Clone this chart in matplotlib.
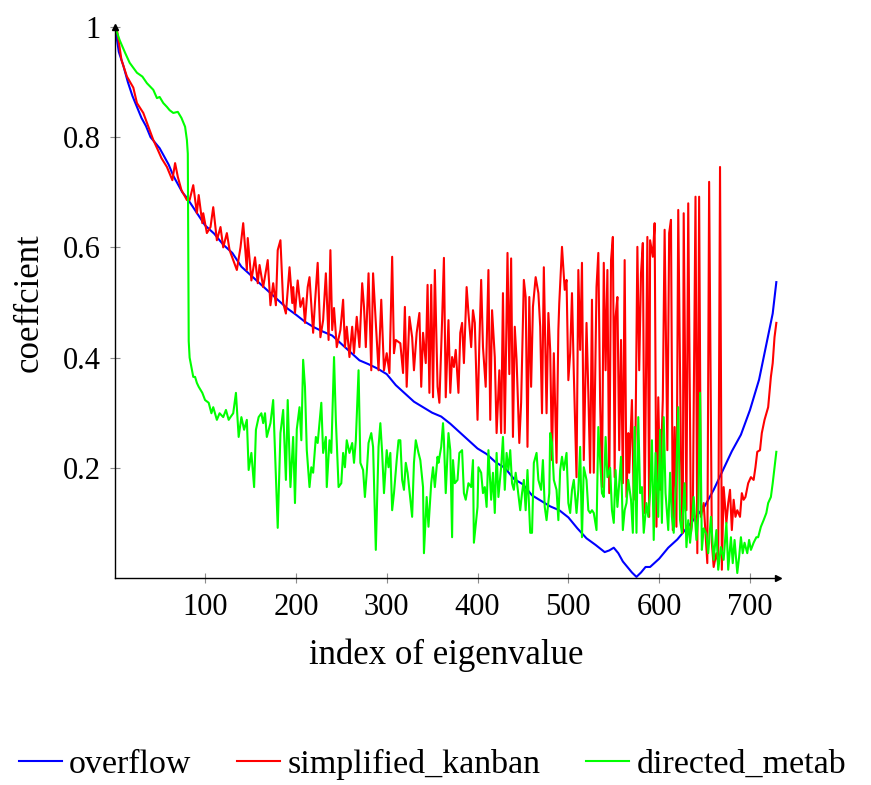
import numpy as np
import matplotlib
matplotlib.use("Agg")
import matplotlib.pyplot as plt

plt.rcParams['font.family'] = ['Liberation Serif', 'DejaVu Serif']

# ----------------------------------------------------------------------------------
# values (index of eigenvalue, coefficient)
# ----------------------------------------------------------------------------------

overflow_idx = [1, 5, 10, 15, 20, 25, 30, 35, 40, 45, 50, 55, 60, 65, 70, 75, 80, 90, 100,
                110, 120, 130, 140, 150, 160, 170, 180, 190, 200, 210, 220, 230, 240, 250,
                260, 270, 280, 290, 300, 310, 320, 330, 340, 350, 360, 370, 380, 390, 400,
                410, 420, 430, 440, 450, 460, 470, 480, 490, 500, 510, 520, 530, 540, 545,
                550, 555, 560, 565, 570, 575, 580, 585, 590, 600, 610, 620, 630, 640, 650,
                660, 670, 680, 690, 700, 710, 720, 725, 729]
overflow_val = [1.0, 0.955, 0.93, 0.90, 0.875, 0.855, 0.835, 0.82, 0.80, 0.79, 0.78, 0.765,
                0.75, 0.73, 0.715, 0.70, 0.69, 0.665, 0.64, 0.625, 0.605, 0.59, 0.565, 0.55,
                0.535, 0.52, 0.505, 0.49, 0.478, 0.465, 0.455, 0.447, 0.44, 0.425, 0.41,
                0.395, 0.388, 0.38, 0.37, 0.35, 0.335, 0.32, 0.31, 0.30, 0.293, 0.28, 0.265,
                0.25, 0.235, 0.225, 0.21, 0.2, 0.18, 0.17, 0.15, 0.14, 0.13, 0.123, 0.11,
                0.09, 0.072, 0.06, 0.047, 0.05, 0.055, 0.045, 0.03, 0.02, 0.01, 0.002, 0.01,
                0.02, 0.02, 0.035, 0.055, 0.07, 0.09, 0.11, 0.13, 0.16, 0.195, 0.23, 0.26,
                0.305, 0.36, 0.44, 0.48, 0.537]

kanban_idx = [1, 3, 8, 14, 21, 25, 32, 36, 43, 48, 52, 58, 64, 67, 70, 74, 80, 83, 87, 91,
              93, 97, 98, 102, 106, 109, 113, 117, 120, 124, 127, 135, 139, 142, 146, 147,
              151, 155, 158, 160, 164, 169, 172, 175, 178, 180, 183, 186, 189, 193, 196, 197,
              199, 202, 205, 208, 210, 213, 215, 219, 221, 224, 227, 230, 233, 236, 238, 240,
              242, 245, 249, 252, 254, 256, 259, 262, 264, 267, 270, 273, 275, 277, 280, 283,
              285, 288, 291, 294, 297, 300, 303, 306, 308, 310, 315, 318, 320, 322, 325, 328,
              330, 333, 336, 338, 340, 343, 345, 347, 349, 351, 353, 356, 358, 361, 363, 365,
              368, 370, 372, 374, 376, 379, 381, 383, 385, 388, 390, 393, 395, 397, 400, 402,
              404, 406, 409, 412, 414, 416, 419, 421, 424, 426, 428, 430, 433, 435, 437, 439,
              441, 443, 446, 448, 451, 453, 455, 457, 459, 461, 464, 467, 469, 471, 473, 476,
              478, 480, 482, 484, 487, 489, 490, 493, 496, 498, 500, 502, 504, 506, 509, 511,
              513, 515, 517, 520, 522, 524, 526, 528, 531, 533, 535, 537, 539, 541, 543, 545,
              547, 549, 551, 552, 554, 556, 558, 560, 562, 564, 566, 567, 570, 572, 574, 576,
              578, 580, 582, 584, 587, 589, 590, 593, 595, 597, 599, 601, 604, 606, 609, 611,
              613, 615, 617, 619, 621, 624, 626, 627, 630, 632, 635, 637, 640, 642, 644, 646,
              649, 653, 655, 658, 660, 663, 665, 667, 669, 671, 674, 676, 678, 680, 682, 684,
              686, 689, 691, 693, 695, 698, 701, 704, 706, 708, 711, 713, 716, 720, 723, 725,
              727, 729]
kanban_val = [1.0, 0.995, 0.94, 0.91, 0.89, 0.862, 0.844, 0.826, 0.795, 0.777, 0.762, 0.746,
              0.722, 0.753, 0.728, 0.704, 0.686, 0.686, 0.713, 0.662, 0.695, 0.644, 0.662,
              0.626, 0.637, 0.673, 0.613, 0.637, 0.60, 0.626, 0.595, 0.559, 0.60, 0.644,
              0.559, 0.617, 0.54, 0.582, 0.535, 0.568, 0.528, 0.577, 0.495, 0.535, 0.495,
              0.595, 0.613, 0.499, 0.48, 0.564, 0.499, 0.528, 0.481, 0.54, 0.492, 0.508,
              0.463, 0.528, 0.546, 0.445, 0.499, 0.572, 0.437, 0.468, 0.553, 0.432, 0.595,
              0.45, 0.49, 0.419, 0.45, 0.505, 0.419, 0.456, 0.401, 0.456, 0.408, 0.474, 0.419,
              0.535, 0.492, 0.419, 0.553, 0.377, 0.553, 0.463, 0.377, 0.505, 0.377, 0.408,
              0.372, 0.583, 0.408, 0.432, 0.426, 0.372, 0.492, 0.347, 0.474, 0.437, 0.377,
              0.445, 0.481, 0.347, 0.445, 0.39, 0.532, 0.336, 0.532, 0.328, 0.559, 0.347,
              0.318, 0.468, 0.581, 0.328, 0.468, 0.336, 0.401, 0.383, 0.414, 0.336, 0.445,
              0.463, 0.39, 0.528, 0.481, 0.419, 0.486, 0.463, 0.287, 0.426, 0.541, 0.419,
              0.347, 0.559, 0.287, 0.486, 0.401, 0.263, 0.377, 0.263, 0.517, 0.263, 0.59,
              0.37, 0.58, 0.256, 0.456, 0.396, 0.245, 0.318, 0.541, 0.51, 0.238, 0.51, 0.347,
              0.492, 0.546, 0.517, 0.456, 0.299, 0.564, 0.299, 0.481, 0.414, 0.214, 0.408,
              0.209, 0.45, 0.499, 0.601, 0.523, 0.541, 0.359, 0.408, 0.517, 0.372, 0.183,
              0.559, 0.414, 0.572, 0.214, 0.463, 0.336, 0.191, 0.505, 0.191, 0.528, 0.59,
              0.318, 0.165, 0.572, 0.377, 0.559, 0.154, 0.577, 0.619, 0.183, 0.474, 0.51,
              0.232, 0.432, 0.172, 0.577, 0.147, 0.263, 0.191, 0.323, 0.142, 0.263, 0.601,
              0.377, 0.553, 0.608, 0.118, 0.619, 0.111, 0.613, 0.583, 0.644, 0.093, 0.328,
              0.16, 0.323, 0.632, 0.232, 0.626, 0.65, 0.087, 0.274, 0.093, 0.668, 0.22, 0.082,
              0.662, 0.123, 0.68, 0.082, 0.111, 0.692, 0.045, 0.692, 0.111, 0.136, 0.027,
              0.719, 0.064, 0.02, 0.045, 0.027, 0.746, 0.015, 0.165, 0.1, 0.136, 0.16, 0.087,
              0.142, 0.111, 0.123, 0.111, 0.154, 0.142, 0.147, 0.172, 0.183, 0.178, 0.201,
              0.229, 0.232, 0.263, 0.287, 0.31, 0.365, 0.39, 0.437, 0.463]

metab_idx = [1, 6, 12, 17, 25, 31, 36, 43, 47, 50, 54, 58, 61, 65, 70, 74, 78, 80, 81, 82,
             83, 85, 87, 89, 91, 93, 97, 100, 104, 107, 109, 113, 116, 120, 123, 126, 128,
             131, 134, 137, 140, 143, 146, 148, 151, 154, 156, 159, 162, 164, 166, 168, 172,
             175, 177, 180, 183, 186, 189, 191, 194, 197, 199, 201, 204, 206, 208, 210, 212,
             215, 217, 219, 222, 224, 228, 230, 233, 234, 237, 239, 242, 244, 247, 250, 252,
             254, 256, 259, 262, 264, 266, 269, 271, 274, 276, 278, 280, 283, 285, 288, 291,
             293, 295, 297, 300, 302, 304, 306, 308, 311, 313, 315, 317, 319, 321, 323, 326,
             328, 330, 332, 335, 337, 340, 341, 344, 346, 349, 351, 353, 356, 357, 360, 362,
             363, 365, 368, 370, 372, 373, 375, 378, 380, 383, 385, 387, 390, 393, 395, 396,
             400, 401, 404, 406, 408, 410, 412, 415, 417, 419, 421, 423, 426, 428, 430, 432,
             434, 436, 438, 440, 442, 444, 447, 449, 451, 453, 455, 458, 460, 462, 465, 467,
             470, 472, 474, 476, 479, 480, 482, 484, 487, 489, 491, 493, 495, 498, 500, 502,
             504, 506, 509, 511, 513, 515, 517, 520, 522, 524, 526, 528, 531, 533, 535, 537,
             539, 541, 543, 546, 548, 550, 552, 554, 556, 558, 560, 562, 564, 566, 569, 571,
             573, 575, 577, 579, 581, 583, 586, 588, 590, 592, 594, 596, 599, 601, 603, 605,
             607, 610, 612, 614, 616, 619, 621, 623, 625, 628, 630, 632, 634, 636, 638, 641,
             643, 645, 647, 649, 652, 654, 657, 660, 663, 665, 668, 671, 674, 676, 679, 681,
             683, 686, 688, 690, 692, 694, 697, 699, 701, 704, 707, 709, 712, 715, 718, 720,
             723, 725, 727, 729]
metab_val = [1.0, 0.976, 0.953, 0.935, 0.917, 0.91, 0.898, 0.886, 0.871, 0.873, 0.862, 0.855,
             0.849, 0.844, 0.846, 0.835, 0.819, 0.795, 0.77, 0.43, 0.40, 0.383, 0.365, 0.365,
             0.354, 0.347, 0.336, 0.323, 0.318, 0.299, 0.31, 0.287, 0.299, 0.292, 0.305,
             0.287, 0.292, 0.299, 0.336, 0.256, 0.292, 0.269, 0.287, 0.196, 0.227, 0.165,
             0.269, 0.292, 0.299, 0.281, 0.299, 0.256, 0.281, 0.323, 0.232, 0.091, 0.263,
             0.305, 0.178, 0.323, 0.165, 0.256, 0.136, 0.27, 0.31, 0.25, 0.396, 0.347, 0.232,
             0.165, 0.201, 0.191, 0.256, 0.245, 0.318, 0.227, 0.256, 0.165, 0.25, 0.227,
             0.401, 0.287, 0.165, 0.172, 0.227, 0.201, 0.25, 0.227, 0.245, 0.209, 0.25,
             0.377, 0.209, 0.196, 0.147, 0.191, 0.245, 0.263, 0.238, 0.051, 0.238, 0.281,
             0.227, 0.154, 0.232, 0.201, 0.227, 0.123, 0.154, 0.214, 0.25, 0.25, 0.178, 0.16,
             0.209, 0.191, 0.142, 0.111, 0.209, 0.25, 0.227, 0.214, 0.165, 0.045, 0.147,
             0.093, 0.172, 0.201, 0.165, 0.22, 0.209, 0.238, 0.281, 0.25, 0.154, 0.263, 0.232,
             0.074, 0.214, 0.172, 0.178, 0.227, 0.232, 0.154, 0.142, 0.172, 0.165, 0.214,
             0.064, 0.129, 0.201, 0.191, 0.154, 0.165, 0.129, 0.232, 0.142, 0.191, 0.118,
             0.227, 0.147, 0.201, 0.256, 0.16, 0.227, 0.196, 0.232, 0.172, 0.16, 0.191, 0.165,
             0.123, 0.154, 0.178, 0.123, 0.196, 0.082, 0.082, 0.209, 0.227, 0.178, 0.16,
             0.214, 0.129, 0.105, 0.154, 0.263, 0.245, 0.178, 0.16, 0.105, 0.196, 0.22,
             0.196, 0.227, 0.136, 0.118, 0.16, 0.178, 0.118, 0.16, 0.238, 0.074, 0.201, 0.178,
             0.123, 0.118, 0.123, 0.118, 0.087, 0.274, 0.214, 0.154, 0.147, 0.256, 0.183, 0.2,
             0.123, 0.1, 0.196, 0.129, 0.172, 0.22, 0.087, 0.123, 0.136, 0.178, 0.142, 0.082,
             0.274, 0.082, 0.292, 0.154, 0.165, 0.082, 0.136, 0.111, 0.154, 0.25, 0.069, 0.227,
             0.111, 0.269, 0.1, 0.292, 0.154, 0.087, 0.191, 0.111, 0.082, 0.196, 0.31, 0.105,
             0.082, 0.172, 0.056, 0.105, 0.064, 0.1, 0.147, 0.069, 0.111, 0.336, 0.051, 0.09,
             0.08, 0.045, 0.111, 0.033, 0.087, 0.015, 0.056, 0.033, 0.1, 0.015, 0.074, 0.027,
             0.069, 0.009, 0.038, 0.074, 0.045, 0.064, 0.045, 0.069, 0.051, 0.064, 0.074,
             0.074, 0.093, 0.105, 0.118, 0.136, 0.147, 0.172, 0.201, 0.229]

x_ticks = [100, 200, 300, 400, 500, 600, 700]
y_ticks = [0.2, 0.4, 0.6, 0.8, 1.0]
y_tick_labels = ['0.2', '0.4', '0.6', '0.8', '1']

fig = plt.figure(figsize=(8.71, 7.85), dpi=100)
ax = fig.add_axes([0.1322, 0.2637, 0.7612, 0.7019])

ax.plot(overflow_idx, overflow_val, color=(0, 0, 1), lw=1.5, label='overflow')
ax.plot(kanban_idx, kanban_val, color=(1, 0, 0), lw=1.5, label='simplified_kanban')
ax.plot(metab_idx, metab_val, color=(0, 1, 0), lw=1.5, label='directed_metab')

ax.set_xlim(1, 731)
ax.set_ylim(0, 1)

ax.spines['top'].set_visible(False)
ax.spines['right'].set_visible(False)
ax.spines['left'].set_linewidth(1.0)
ax.spines['bottom'].set_linewidth(1.0)
# arrow heads at the end of the axis lines
ax.plot(1, 0, '>k', ms=5, transform=ax.transAxes, clip_on=False)
ax.plot(0, 1, '^k', ms=5, transform=ax.transAxes, clip_on=False)

ax.set_xticks(x_ticks)
ax.set_yticks(y_ticks)
ax.set_yticklabels(y_tick_labels)
ax.tick_params(direction='inout', length=7, width=0.8, color='0.55',
               labelcolor='black', labelsize=22, pad=7)

ax.set_xlabel('index of eigenvalue', fontsize=25)
ax.set_ylabel('coeffcient', fontsize=25)
ax.xaxis.set_label_coords(0.5, -0.11)
ax.yaxis.set_label_coords(-0.105, 0.5)

fig.legend(loc='center left', bbox_to_anchor=(0.022, 1 - 764 / 785), ncol=3,
           frameon=False, fontsize=24.5, handlelength=1.25, handletextpad=0.22,
           columnspacing=1.35, borderpad=0, borderaxespad=0)

plt.savefig('out.png', dpi=100)
plt.close()
